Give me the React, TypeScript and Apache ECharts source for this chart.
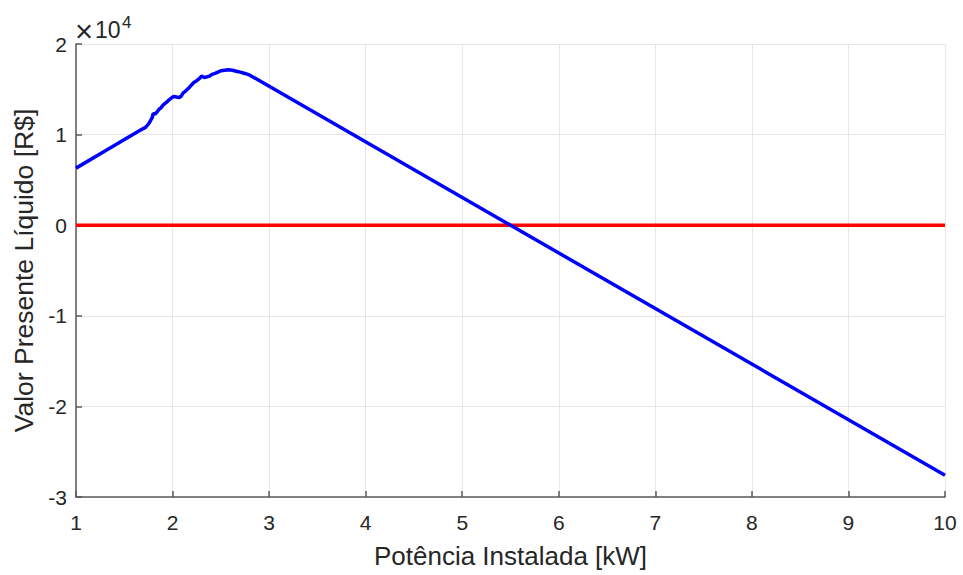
import React, { useEffect, useRef } from "react";
import * as echarts from "echarts";

const potenciaKW = [
  1.0, 1.3, 1.66, 1.72, 1.75, 1.77, 1.79, 1.8, 1.82, 1.84, 1.86, 1.88, 1.9, 1.93, 1.96, 1.99, 2.01,
  2.04, 2.07, 2.09, 2.11, 2.13, 2.16, 2.19, 2.22, 2.25, 2.28, 2.3, 2.33, 2.35, 2.38, 2.41, 2.44,
  2.47, 2.5, 2.54, 2.58, 2.62, 2.66, 2.7, 2.75, 2.8, 10.0,
];
const vplRS = [
  6300, 8180, 10450, 10800, 11150, 11500, 11900, 12350, 12250, 12500, 12800, 12950, 13250, 13500,
  13800, 14050, 14200, 14150, 14100, 14250, 14600, 14750, 15050, 15400, 15750, 15950, 16200,
  16450, 16300, 16350, 16450, 16650, 16750, 16900, 17050, 17100, 17150, 17100, 17000, 16900,
  16750, 16560, -27600,
];
const zeroLineX = [1, 10];
const zeroLineY = [0, 0];

const xTicks = { min: 1, max: 10, interval: 1 };
const yTicks = { min: -30000, max: 20000, interval: 10000 };

export default function App() {
  const ref = useRef<HTMLDivElement>(null);
  useEffect(() => {
    if (!ref.current) return;
    const chart = echarts.init(ref.current, null, { renderer: "svg" });
    const font = "'Liberation Sans', Arial, Helvetica, sans-serif";
    const textColor = "#262626";
    const axisColor = "#5a5a5a";
    chart.setOption({
      animation: false,
      backgroundColor: "#ffffff",
      textStyle: { fontFamily: font },
      grid: { left: 76, right: 18, top: 44, bottom: 78, containLabel: false },
      xAxis: {
        type: "value",
        min: xTicks.min,
        max: xTicks.max,
        interval: xTicks.interval,
        name: "Potência Instalada [kW]",
        nameLocation: "middle",
        nameGap: 46,
        nameTextStyle: { fontSize: 26, color: textColor, fontFamily: font },
        axisLine: { show: true, onZero: false, lineStyle: { color: axisColor, width: 1.5 } },
        axisTick: { show: true, inside: true, length: 6, lineStyle: { color: axisColor, width: 1.5 } },
        axisLabel: { fontSize: 21, color: textColor, margin: 15, fontFamily: font },
        splitLine: { show: true, lineStyle: { color: "#e6e6e6", width: 1 } },
      },
      yAxis: {
        type: "value",
        min: yTicks.min,
        max: yTicks.max,
        interval: yTicks.interval,
        name: "Valor Presente Líquido [R$]",
        nameLocation: "middle",
        nameGap: 38,
        nameTextStyle: { fontSize: 26.5, color: textColor, fontFamily: font },
        axisLine: { show: true, lineStyle: { color: axisColor, width: 1.5 } },
        axisTick: { show: true, inside: true, length: 6, lineStyle: { color: axisColor, width: 1.5 } },
        axisLabel: {
          fontSize: 21,
          color: textColor,
          margin: 9,
          fontFamily: font,
          formatter: (v: number) => String(v / 10000),
        },
        splitLine: { show: true, lineStyle: { color: "#e6e6e6", width: 1 } },
      },
      graphic: [
        {
          type: "text",
          x: 75,
          y: 31,
          style: {
            text: "×",
            fontSize: 31,
            fill: textColor,
            fontFamily: font,
            verticalAlign: "middle",
            align: "left",
          },
        },
        {
          type: "text",
          x: 95,
          y: 29.6,
          style: {
            text: "10",
            fontSize: 23,
            fill: textColor,
            fontFamily: font,
            verticalAlign: "middle",
            align: "left",
          },
        },
        {
          type: "text",
          x: 122,
          y: 22,
          style: {
            text: "4",
            fontSize: 17,
            fill: textColor,
            fontFamily: font,
            verticalAlign: "middle",
            align: "left",
          },
        },
      ],
      series: [
        {
          type: "line",
          data: zeroLineX.map((x, i) => [x, zeroLineY[i]]),
          showSymbol: false,
          symbol: "none",
          lineStyle: { color: "#ff0000", width: 3.5 },
          z: 2,
        },
        {
          type: "line",
          data: potenciaKW.map((x, i) => [x, vplRS[i]]),
          showSymbol: false,
          symbol: "none",
          lineStyle: { color: "#0000ff", width: 3.5 },
          z: 3,
        },
      ],
    });
    return () => chart.dispose();
  }, []);
  return (
    <div
      ref={ref}
      style={{ position: "fixed", left: 0, top: 0, width: 963, height: 575 }}
    />
  );
}
